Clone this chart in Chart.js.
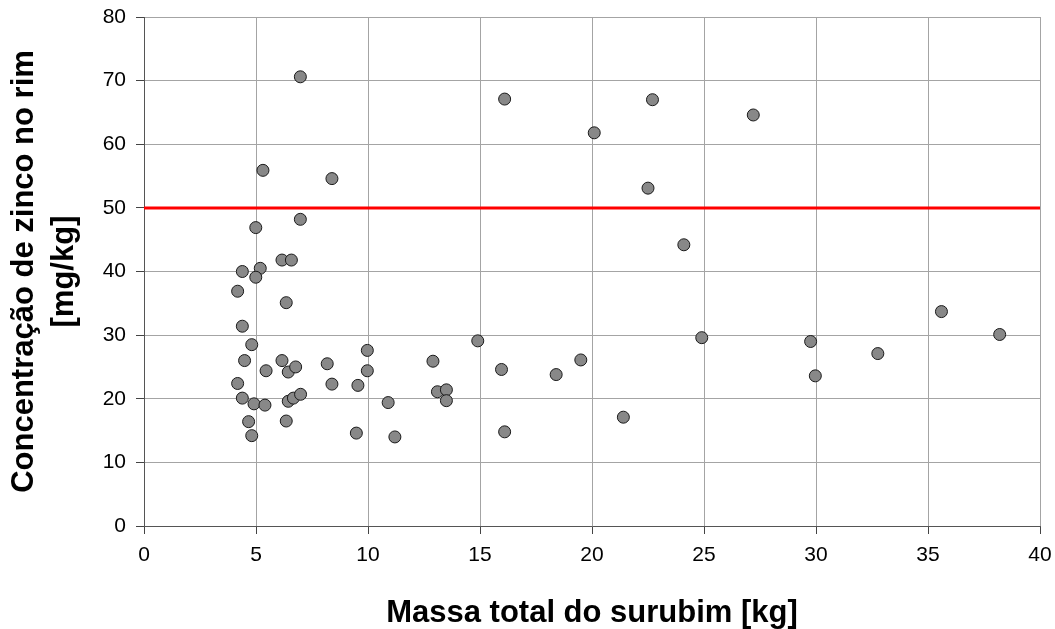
<!DOCTYPE html>
<html>
<head>
<meta charset="utf-8">
<script src="https://cdn.jsdelivr.net/npm/chart.js@4/dist/chart.umd.min.js"></script>
<style>
  html, body { margin: 0; padding: 0; background: #fff; }
  #wrap { width: 1055px; height: 629px; }
</style>
</head>
<body>
<div id="wrap"><canvas id="chart"></canvas></div>
<script>
  // massa total (kg) e concentração de zinco (mg/kg)
  const massa = [
    6.98, 5.31, 8.39, 6.98, 4.99, 6.16, 6.58, 4.39, 5.19, 4.99,
    4.18, 6.35, 4.39, 4.81, 4.49, 6.16, 5.45, 6.44, 6.77, 8.18,
    8.39, 9.97, 9.97, 9.55, 4.18, 4.39, 4.91, 5.40, 6.44, 6.67,
    6.99, 4.67, 4.81, 6.35, 9.48,
    16.1, 22.7, 27.2, 20.1, 22.5, 24.1, 24.9, 12.9, 14.9, 15.96,
    18.4, 19.5, 10.9, 13.1, 13.5, 13.5, 11.2, 16.1, 21.4,
    29.76, 29.97, 32.76, 35.6, 38.2
  ];
  const zinco = [
    70.6, 55.9, 54.6, 48.2, 46.9, 41.8, 41.8, 40.0, 40.5, 39.1,
    36.9, 35.1, 31.4, 28.5, 26.0, 26.0, 24.4, 24.2, 25.0, 25.5,
    22.3, 27.6, 24.4, 22.1, 22.4, 20.1, 19.2, 19.0, 19.6, 20.1,
    20.7, 16.4, 14.2, 16.5, 14.6,
    67.1, 67.0, 64.6, 61.8, 53.1, 44.2, 29.6, 25.9, 29.1, 24.6,
    23.8, 26.1, 19.4, 21.1, 21.4, 19.7, 14.0, 14.8, 17.1,
    29.0, 23.6, 27.1, 33.7, 30.1
  ];
  const limite = 50;        // linha de referência
  const xRange = [0, 40];
  const yRange = [0, 80];
  const xLabel = 'Massa total do surubim [kg]';
  const yLabel = ['Concentração de zinco no rim', '[mg/kg]'];

  const pontos = massa.map((m, i) => ({ x: m, y: zinco[i] }));
  const linhaLimite = xRange.map(v => ({ x: v, y: limite }));

  const FONT = '"Liberation Sans", Arial, sans-serif';

  // axis titles drawn by hand (Excel style placement)
  const axisTitles = {
    id: 'axisTitles',
    afterDraw(chart) {
      const ctx = chart.ctx;
      const area = chart.chartArea;
      ctx.save();
      ctx.font = 'bold 31px ' + FONT;
      ctx.fillStyle = '#000';
      ctx.textAlign = 'center';
      ctx.textBaseline = 'alphabetic';
      ctx.fillText(xLabel, (area.left + area.right) / 2, 622);

      const cy = (area.top + area.bottom) / 2;
      ctx.translate(0, cy);
      ctx.rotate(-Math.PI / 2);
      ctx.fillText(yLabel[0], 0, 33);
      ctx.fillText(yLabel[1], 0, 73);
      ctx.restore();
    }
  };

  new Chart(document.getElementById('chart'), {
    type: 'scatter',
    data: {
      datasets: [
        {
          label: 'limite',
          data: linhaLimite,
          showLine: true,
          borderColor: '#ff0000',
          borderWidth: 3,
          pointRadius: 0,
          order: 2
        },
        {
          label: 'zinco',
          data: pontos,
          backgroundColor: '#888888',
          borderColor: '#1a1a1a',
          borderWidth: 1,
          pointRadius: 6,
          order: 1
        }
      ]
    },
    options: {
      responsive: true,
      maintainAspectRatio: false,
      animation: false,
      layout: { padding: { top: 17, right: 15, left: 0, bottom: 0 } },
      plugins: {
        legend: { display: false },
        tooltip: { enabled: false }
      },
      scales: {
        x: {
          type: 'linear',
          min: xRange[0],
          max: xRange[1],
          ticks: {
            stepSize: 5,
            color: '#000',
            padding: 9,
            font: { family: FONT, size: 21 }
          },
          grid: { color: '#a4a4a4', tickColor: '#444', tickLength: 8, lineWidth: 1 },
          border: { color: '#555', width: 1 },
          afterFit: s => { s.height = 103; s.paddingLeft = 0; s.paddingRight = 0; }
        },
        y: {
          type: 'linear',
          min: yRange[0],
          max: yRange[1],
          ticks: {
            stepSize: 10,
            color: '#000',
            padding: 10,
            font: { family: FONT, size: 21 }
          },
          grid: { color: '#a4a4a4', tickColor: '#444', tickLength: 8, lineWidth: 1 },
          border: { color: '#555', width: 1 },
          afterFit: s => { s.width = 144; s.paddingTop = 0; s.paddingBottom = 0; }
        }
      }
    },
    plugins: [axisTitles]
  });
</script>
</body>
</html>
